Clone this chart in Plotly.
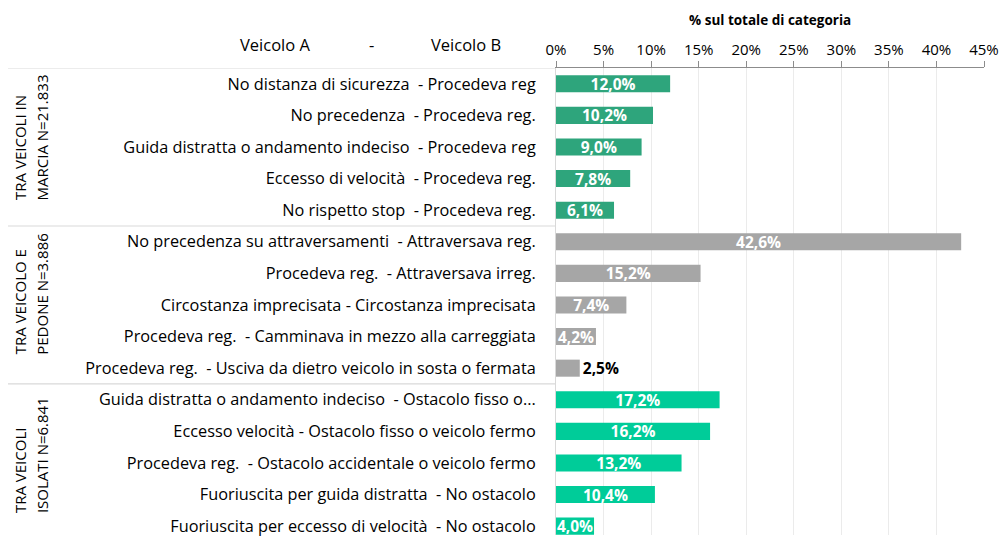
import plotly.graph_objects as go

categories = [
    "No distanza di sicurezza  - Procedeva reg",
    "No precedenza  - Procedeva reg.",
    "Guida distratta o andamento indeciso  - Procedeva reg",
    "Eccesso di velocità  - Procedeva reg.",
    "No rispetto stop  - Procedeva reg.",
    "No precedenza su attraversamenti  - Attraversava reg.",
    "Procedeva reg.  - Attraversava irreg.",
    "Circostanza imprecisata - Circostanza imprecisata",
    "Procedeva reg.  - Camminava in mezzo alla carreggiata",
    "Procedeva reg.  - Usciva da dietro veicolo in sosta o fermata",
    "Guida distratta o andamento indeciso  - Ostacolo fisso o...",
    "Eccesso velocità - Ostacolo fisso o veicolo fermo",
    "Procedeva reg.  - Ostacolo accidentale o veicolo fermo",
    "Fuoriuscita per guida distratta  - No ostacolo",
    "Fuoriuscita per eccesso di velocità  - No ostacolo",
]
values = [12.0, 10.2, 9.0, 7.8, 6.1, 42.6, 15.2, 7.4, 4.2, 2.5, 17.2, 16.2, 13.2, 10.4, 4.0]
group_of_row = [0]*5 + [1]*5 + [2]*5
group_line1 = ["TRA VEICOLI IN", "TRA VEICOLO E", "TRA VEICOLI"]
group_line2 = ["MARCIA N=21.833", "PEDONE N=3.886", "ISOLATI N=6.841"]
group_colors = ["#2EA57C", "#A6A6A6", "#00CC99"]
x_ticks = [0, 5, 10, 15, 20, 25, 30, 35, 40, 45]

FONT = "Open Sans, sans-serif"

ypos = list(range(len(categories)))
colors = [group_colors[g] for g in group_of_row]
texts = [f"{v:.1f}%".replace(".", ",") for v in values]
positions = ["outside" if v < 3 else "inside" for v in values]
tcolors = ["#000000" if v < 3 else "#FFFFFF" for v in values]

fig = go.Figure()
fig.add_trace(go.Bar(
    x=values, y=ypos, orientation="h",
    marker=dict(color=colors, line=dict(width=0)),
    width=0.54,
    text=texts, textposition=positions,
    insidetextanchor="middle", constraintext="none",
    textfont=dict(family=FONT, size=15.5, color=tcolors, weight="bold"),
    outsidetextfont=dict(family=FONT, size=15.5, color="#000000", weight="bold"),
    insidetextfont=dict(family=FONT, size=15.5, color="#FFFFFF", weight="bold"),
    cliponaxis=False,
    hoverinfo="skip",
))

W, H = 1002, 537
L, R, T, B = 556, 18, 68, 0
pw, ph = W - L - R, H - T - B

def px_x(x):
    return (x - L) / pw

def px_y(y):
    return (H - B - y) / ph

fig.update_layout(
    width=W, height=H,
    margin=dict(l=L, r=R, t=T, b=B),
    paper_bgcolor="white", plot_bgcolor="white",
    showlegend=False,
    font=dict(family=FONT, size=16, color="#000000"),
    xaxis=dict(
        side="top", range=[0, 45], tickvals=x_ticks,
        ticktext=[f"{t}%" for t in x_ticks],
        showgrid=True, gridcolor="#EBEBEB", gridwidth=1,
        zeroline=False, showline=True, linecolor="#8C8C8C", linewidth=1,
        ticks="outside", ticklen=6, tickcolor="#8C8C8C",
        tickfont=dict(family=FONT, size=15, color="#000000"),
        fixedrange=True,
    ),
    yaxis=dict(
        range=[14.28, -0.5], tickvals=ypos, ticktext=categories,
        showgrid=False, zeroline=False, showline=True, linecolor="#D9D9D9",
        ticks="", ticklabelstandoff=16, ticklabeloverflow="allow",
        tickfont=dict(family=FONT, size=16.3, color="#000000"),
        fixedrange=True,
    ),
)

# group separators
for yb in [-0.5, 4.5, 9.5]:
    fig.add_shape(type="line", xref="paper", yref="y",
                  x0=px_x(8), x1=0, y0=yb, y1=yb,
                  line=dict(color="#D9D9D9", width=1.2))

# group labels (rotated, start-aligned at the bottom of each block)
group_bottom_px = [203, 358, 517]
for yb, a, b in zip(group_bottom_px, group_line1, group_line2):
    for txt, xpx in [(a, 20), (b, 42)]:
        fig.add_annotation(xref="paper", yref="paper", x=px_x(xpx), y=px_y(yb),
                           text=txt, textangle=-90, showarrow=False,
                           xanchor="center", yanchor="bottom",
                           font=dict(family=FONT, size=15, color="#000000"))

# header
for txt, xpx in [("Veicolo A", 275), ("-", 371), ("Veicolo B", 466)]:
    fig.add_annotation(xref="paper", yref="paper", x=px_x(xpx), y=px_y(44),
                       text=txt, showarrow=False, xanchor="center", yanchor="middle",
                       font=dict(family=FONT, size=16.5, color="#000000"))

fig.add_annotation(xref="paper", yref="paper", x=px_x(770), y=px_y(20),
                   text="<b>% sul totale di categoria</b>", showarrow=False,
                   xanchor="center", yanchor="middle",
                   font=dict(family=FONT, size=13.5, color="#000000"))

fig.write_html("out.html", config={"displayModeBar": False},
               post_script="document.body.style.margin='0';")
